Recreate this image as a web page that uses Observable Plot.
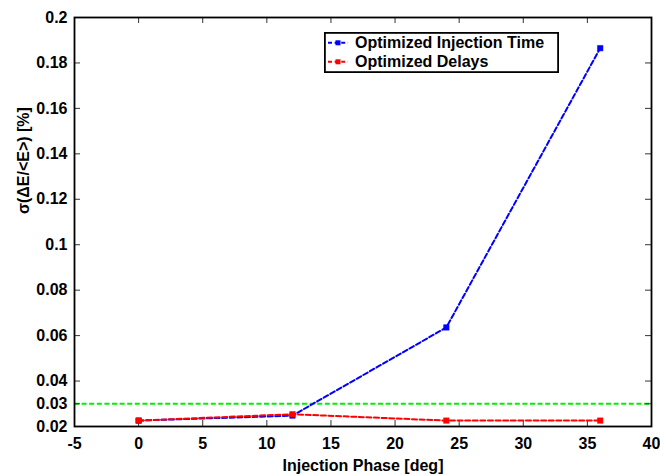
<!DOCTYPE html>
<html>
<head>
<meta charset="utf-8">
<script src="https://cdn.jsdelivr.net/npm/d3@7"></script>
<script src="https://cdn.jsdelivr.net/npm/@observablehq/plot@0.6"></script>
<style>
  html, body { margin: 0; padding: 0; background: #fff; }
  #wrap { position: relative; width: 660px; height: 476px; }
  #legend { position: absolute; left: 324px; top: 32px; }
</style>
</head>
<body>
<div id="wrap"></div>
<script>
const xTicks = [-5, 0, 5, 10, 15, 20, 25, 30, 35, 40];
const yTicks = [0.02, 0.03, 0.04, 0.06, 0.08, 0.1, 0.12, 0.14, 0.16, 0.18, 0.2];
const phase = [0, 12, 24, 36];
const injectionTime = [0.0226, 0.0248, 0.0636, 0.1865];
const delays = [0.0226, 0.0254, 0.0226, 0.0226];
const threshold = 0.03;
const seriesNames = ["Optimized Injection Time", "Optimized Delays"];
const seriesColors = ["#0000ff", "#ff0000"];
const xLabel = "Injection Phase [deg]";
const yLabel = "σ(ΔE/<E>) [%]";

const blue = phase.map((p, i) => ({x: p, y: injectionTime[i]}));
const red = phase.map((p, i) => ({x: p, y: delays[i]}));

const W = 660, H = 476, mL = 74, mR = 9, mT = 17, mB = 50;
const innerW = W - mL - mR, innerH = H - mT - mB;
const tickLen = 6;
const dash = "5,2.6";
const font = "'Liberation Sans', Arial, Helvetica, sans-serif";

const chart = Plot.plot({
  width: W, height: H,
  marginLeft: mL, marginRight: mR, marginTop: mT, marginBottom: mB,
  x: {domain: [-5, 40], label: null},
  y: {domain: [0.02, 0.2], label: null},
  style: {fontFamily: font, fontSize: "16px", fontWeight: "bold", color: "#000", background: "#fff"},
  marks: [
    Plot.ruleY([threshold], {stroke: "#00f000", strokeWidth: 2, strokeDasharray: dash}),
    Plot.tickX(xTicks, {x: d => d, insetTop: innerH - tickLen, stroke: "#333", strokeWidth: 1}),
    Plot.tickX(xTicks, {x: d => d, insetBottom: innerH - tickLen, stroke: "#333", strokeWidth: 1}),
    Plot.tickY(yTicks, {y: d => d, insetRight: innerW - tickLen, stroke: "#333", strokeWidth: 1}),
    Plot.tickY(yTicks, {y: d => d, insetLeft: innerW - tickLen, stroke: "#333", strokeWidth: 1}),
    Plot.line(blue, {x: "x", y: "y", stroke: seriesColors[0], strokeWidth: 2, strokeDasharray: dash}),
    Plot.dot(blue, {x: "x", y: "y", symbol: "square", r: 3.1, fill: seriesColors[0], stroke: seriesColors[0], strokeWidth: 0.5}),
    Plot.line(red, {x: "x", y: "y", stroke: seriesColors[1], strokeWidth: 2, strokeDasharray: dash}),
    Plot.dot(red, {x: "x", y: "y", symbol: "square", r: 3.1, fill: seriesColors[1], stroke: seriesColors[1], strokeWidth: 0.5}),
    Plot.frame({stroke: "#000", strokeWidth: 1.8}),
    Plot.axisX(xTicks, {tickSize: 0, tickPadding: 11, tickFormat: d => String(d), fontSize: 16}),
    Plot.axisY(yTicks, {tickSize: 0, tickPadding: 7, tickFormat: d => String(d), fontSize: 16}),
    Plot.text([xLabel], {text: d => d, frameAnchor: "bottom", dy: 39, fontSize: 16, lineAnchor: "middle"}),
    Plot.text([yLabel], {text: d => d, frameAnchor: "left", dx: -51, dy: -8, rotate: -90, fontSize: 16, lineAnchor: "middle"})
  ]
});
document.getElementById("wrap").appendChild(chart);

// Legend
const lw = 235, lh = 41;
const leg = d3.create("svg").attr("id", "legend").attr("width", lw).attr("height", lh)
  .style("font-family", font).style("font-weight", "bold").style("font-size", "16px");
leg.append("rect").attr("x", 0.9).attr("y", 0.9).attr("width", lw - 1.8).attr("height", lh - 1.8)
  .attr("fill", "#fff").attr("stroke", "#000").attr("stroke-width", 1.8);
const rowY = [10.8, 29.8];
seriesNames.forEach((name, i) => {
  const g = leg.append("g").attr("transform", `translate(0,${rowY[i]})`);
  g.append("line").attr("x1", 4).attr("x2", 24).attr("y1", 0).attr("y2", 0)
    .attr("stroke", seriesColors[i]).attr("stroke-width", 2).attr("stroke-dasharray", "4,2.6");
  g.append("rect").attr("x", 11.5).attr("y", -2.5).attr("width", 5).attr("height", 5).attr("fill", seriesColors[i]);
  g.append("text").attr("x", 31).attr("y", 0).attr("dy", "0.35em").text(name);
});
document.getElementById("wrap").appendChild(leg.node());
</script>
</body>
</html>
